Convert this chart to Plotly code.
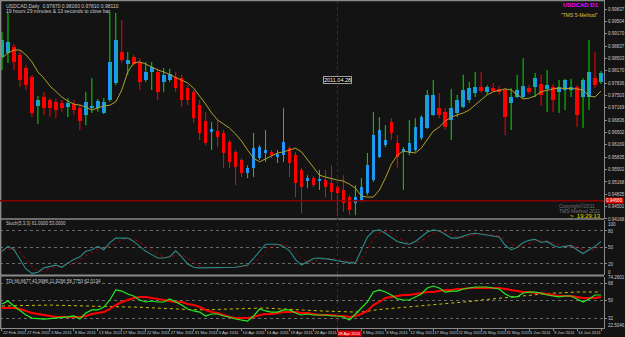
import plotly.graph_objects as go

# ---------------- data ----------------
tick_dates = ["22 Feb 2011", "27 Feb 2011", "3 Mar 2011", "8 Mar 2011", "13 Mar 2011", "17 Mar 2011",
              "22 Mar 2011", "27 Mar 2011", "31 Mar 2011", "5 Apr 2011", "10 Apr 2011", "14 Apr 2011",
              "19 Apr 2011", "24 Apr 2011", "28 Apr 2011", "3 May 2011", "8 May 2011", "12 May 2011",
              "17 May 2011", "22 May 2011", "26 May 2011", "31 May 2011", "5 Jun 2011", "9 Jun 2011",
              "14 Jun 2011", "19 Jun 2011"]
bars_per_tick = 4
highlight_tick = 14  # tick under the vertical line, shown on red

open_ = [.9854, .9865, .9881, .9860, .9824, .9800, .9722, .9746, .9738, .9733,
         .9730, .9719, .9727, .9716, .9697, .9716, .9716, .9703, .9738, .9784,
         .9868, .9835, .9854, .9841, .9792, .9814, .9814, .9787, .9792, .9800,
         .9797, .9770, .9760, .9724, .9681, .9652, .9654, .9649, .9625, .9598,
         .9576, .9541, .9554, .9581, .9595, .9598, .9584, .9589, .9608, .9589,
         .9549, .9522, .9527, .9519, .9522, .9514, .9503, .9495, .9476, .9460,
         .9468, .9487, .9522, .9584, .9616, .9679, .9622, .9598, .9595, .9603,
         .9635, .9662, .9697, .9716, .9706, .9684, .9703, .9719, .9738, .9757,
         .9773, .9760, .9770, .9768, .9765, .9730, .9746, .9746, .9770, .9773,
         .9781, .9768, .9773, .9760, .9765, .9765, .9773, .9746, .9746, .9797,
         .9787]
high = [.9922, .9973, .9889, .9873, .9833, .9806, .9749, .9760, .9743, .9741,
        .9738, .9743, .9738, .9727, .9760, .9797, .9741, .9743, .9976, .9973,
        .9954, .9868, .9860, .9851, .9841, .9841, .9824, .9824, .9822, .9814,
        .9806, .9778, .9765, .9738, .9706, .9679, .9684, .9657, .9630, .9603,
        .9581, .9562, .9649, .9616, .9657, .9603, .9603, .9716, .9614, .9598,
        .9554, .9535, .9533, .9549, .9549, .9562, .9508, .9535, .9481, .9508,
        .9527, .9595, .9706, .9692, .9670, .9689, .9643, .9611, .9684, .9689,
        .9697, .9765, .9792, .9757, .9716, .9768, .9752, .9806, .9787, .9814,
        .9814, .9778, .9784, .9776, .9770, .9770, .9806, .9851, .9778, .9811,
        .9806, .9819, .9781, .9792, .9795, .9795, .9778, .9797, .9900, .9868,
        .9816]
low = [.9819, .9838, .9819, .9773, .9765, .9692, .9673, .9697, .9692, .9689,
       .9706, .9692, .9697, .9657, .9670, .9703, .9706, .9700, .9733, .9778,
       .9838, .9806, .9830, .9765, .9787, .9765, .9738, .9760, .9787, .9760,
       .9719, .9724, .9676, .9630, .9616, .9603, .9611, .9554, .9554, .9508,
       .9530, .9527, .9530, .9576, .9571, .9581, .9568, .9571, .9530, .9476,
       .9433, .9500, .9503, .9495, .9476, .9468, .9425, .9436, .9427, .9427,
       .9463, .9481, .9517, .9581, .9611, .9630, .9554, .9495, .9589, .9598,
       .9630, .9660, .9695, .9689, .9657, .9630, .9692, .9716, .9730, .9746,
       .9757, .9752, .9760, .9752, .9643, .9657, .9743, .9743, .9754, .9746,
       .9722, .9706, .9706, .9703, .9711, .9746, .9665, .9662, .9711, .9770,
       .9781]
close = [.9900, .9895, .9841, .9792, .9778, .9703, .9738, .9716, .9716, .9711,
         .9716, .9730, .9711, .9681, .9733, .9722, .9735, .9733, .9841, .9900,
         .9846, .9846, .9835, .9787, .9814, .9827, .9760, .9806, .9808, .9770,
         .9738, .9738, .9689, .9649, .9622, .9660, .9638, .9595, .9571, .9557,
         .9541, .9554, .9608, .9611, .9603, .9589, .9592, .9625, .9568, .9514,
         .9503, .9527, .9508, .9525, .9503, .9490, .9487, .9460, .9441, .9476,
         .9503, .9562, .9643, .9657, .9630, .9649, .9584, .9606, .9622, .9665,
         .9692, .9752, .9752, .9697, .9665, .9716, .9738, .9765, .9770, .9773,
         .9762, .9773, .9762, .9760, .9692, .9746, .9765, .9776, .9760, .9797,
         .9752, .9778, .9738, .9773, .9792, .9773, .9697, .9792, .9814, .9778,
         .9811]
ma = [.9851, .9865, .9873, .9873, .9860, .9841, .9814, .9797, .9776, .9760,
      .9746, .9735, .9727, .9724, .9719, .9711, .9716, .9722, .9724, .9733,
      .9765, .9814, .9838, .9841, .9835, .9827, .9819, .9814, .9806, .9800,
      .9792, .9784, .9770, .9749, .9727, .9703, .9684, .9673, .9662, .9646,
      .9627, .9603, .9581, .9571, .9579, .9589, .9595, .9598, .9603, .9608,
      .9598, .9576, .9554, .9535, .9530, .9525, .9522, .9519, .9511, .9500,
      .9479, .9476, .9476, .9495, .9527, .9565, .9589, .9600, .9598, .9595,
      .9608, .9630, .9654, .9665, .9681, .9692, .9697, .9703, .9711, .9724,
      .9738, .9752, .9760, .9765, .9768, .9765, .9752, .9741, .9743, .9749,
      .9760, .9765, .9768, .9770, .9770, .9770, .9768, .9765, .9749, .9746,
      .9762]
price_ticks = [0.99837, 0.99504, 0.99170, 0.98837, 0.98503, 0.98170, 0.97836, 0.97503, 0.97169,
               0.96836, 0.96502, 0.96169, 0.95835, 0.95502, 0.95168, 0.94835, 0.94501, 0.94168]
hline_price = 0.9466
vline_bar = 56
vline_label = "2011.04.28"

stoch_main = [43, 52, 46, 28, 11, 3, 5, 13, 16, 18, 14, 22, 28, 33, 43, 46, 52, 46, 59, 67,
              67, 67, 61, 52, 43, 37, 31, 31, 33, 44, 33, 20, 14, 13, 13, 13, 14, 14, 13, 14,
              16, 18, 30, 43, 56, 56, 56, 52, 44, 28, 18, 24, 30, 31, 30, 28, 26, 24, 22, 22,
              46, 69, 80, 82, 76, 69, 61, 58, 56, 61, 69, 78, 82, 80, 74, 67, 67, 71, 74, 76,
              74, 72, 71, 69, 54, 46, 50, 59, 63, 65, 59, 61, 54, 50, 52, 54, 46, 39, 46, 52, 61]
stoch_signal = [45, 47, 48, 42, 29, 15, 7, 7, 11, 15, 16, 18, 21, 28, 35, 41, 47, 48, 52, 57,
                64, 67, 65, 60, 52, 44, 37, 33, 32, 36, 37, 32, 22, 16, 13, 13, 13, 14, 14, 14,
                15, 16, 21, 30, 43, 52, 56, 55, 51, 41, 30, 23, 24, 28, 30, 30, 28, 26, 24, 23,
                30, 46, 65, 77, 79, 76, 69, 62, 58, 58, 62, 69, 76, 80, 79, 74, 69, 68, 71, 74,
                75, 74, 72, 71, 65, 56, 50, 52, 57, 62, 62, 62, 58, 55, 52, 52, 51, 46, 44, 46, 53]
stoch_levels = [20, 50, 80]

tdi_green = [46.9, 49.9, 44.8, 39.8, 35.7, 32.6, 32.0, 31.6, 32.0, 32.6,
             32.6, 33.7, 34.7, 31.6, 37.7, 40.8, 40.8, 43.8, 50.9, 61.1,
             60.0, 57.0, 55.0, 50.9, 48.9, 49.9, 48.9, 48.9, 52.0, 48.9,
             45.8, 41.8, 39.8, 38.7, 34.7, 36.7, 36.7, 34.7, 33.7, 31.6,
             30.6, 29.6, 34.7, 41.8, 39.8, 38.7, 38.7, 40.8, 40.8, 37.7,
             35.7, 36.7, 35.7, 35.7, 35.7, 34.7, 34.7, 33.7, 30.6, 36.7,
             42.8, 48.9, 59.0, 61.1, 59.0, 56.0, 52.0, 50.9, 50.9, 54.0,
             57.0, 63.1, 65.1, 63.1, 59.0, 60.0, 60.0, 62.1, 63.1, 64.1,
             64.1, 64.1, 63.1, 62.1, 57.0, 54.0, 54.0, 58.0, 59.0, 59.0,
             58.0, 56.0, 55.0, 54.0, 55.0, 55.0, 52.0, 48.9, 52.0, 56.0, 56.0]
tdi_red = [42.8, 42.8, 42.8, 41.8, 39.8, 37.7, 36.7, 35.7, 34.7, 33.7,
           33.7, 33.7, 33.7, 33.7, 34.7, 36.7, 37.7, 38.7, 41.8, 45.8,
           48.9, 50.9, 53.0, 54.0, 54.0, 53.0, 52.0, 50.9, 49.9, 48.9,
           48.9, 46.9, 45.8, 43.8, 40.8, 38.7, 37.7, 35.7, 33.7, 32.6,
           32.6, 32.6, 33.7, 35.7, 36.7, 36.7, 37.7, 38.7, 38.7, 38.7,
           37.7, 37.7, 36.7, 35.7, 35.7, 35.7, 34.7, 34.7, 33.7, 34.7,
           36.7, 39.8, 45.8, 48.9, 53.0, 54.0, 55.0, 56.0, 56.0, 57.0,
           58.0, 59.0, 59.0, 60.0, 61.1, 61.1, 62.1, 62.1, 63.1, 63.1,
           63.1, 63.1, 63.1, 63.1, 62.1, 61.1, 60.0, 59.0, 59.0, 58.0,
           58.0, 57.0, 56.0, 55.0, 55.0, 55.0, 54.0, 53.0, 53.0, 53.0, 54.0]
tdi_base = [44.8, 45.0, 45.2, 45.4, 45.6, 45.8, 45.8, 45.8, 45.8, 45.6,
            45.4, 45.2, 45.0, 44.9, 44.8, 44.8, 44.6, 44.4, 44.2, 44.0,
            43.9, 43.8, 43.8, 43.6, 43.4, 43.2, 43.0, 42.8, 42.4, 42.0,
            41.6, 41.2, 41.0, 40.8, 41.0, 41.2, 41.4, 41.6, 41.8, 42.0,
            42.2, 42.4, 42.6, 42.8, 42.8, 42.4, 42.0, 41.6, 41.2, 41.0,
            40.8, 40.5, 40.2, 39.9, 39.6, 39.3, 39.0, 38.7, 38.7, 38.7,
            38.7, 39.7, 40.8, 41.3, 41.8, 42.3, 42.8, 43.3, 43.8, 44.3,
            44.8, 45.3, 45.8, 46.3, 46.9, 47.4, 47.9, 48.9, 49.4, 49.9,
            50.9, 51.5, 52.0, 52.5, 53.0, 54.0, 54.5, 55.0, 55.5, 56.0,
            57.0, 57.5, 58.0, 58.0, 58.5, 58.5, 59.0, 59.0, 59.0, 59.0, 59.0]
tdi_levels = [32, 50, 68]
tdi_text = "TDI 66.6677 43.9986 11.9296 58.7750 62.0134"

# ---------------- styling ----------------
BG = "#131313"
GRAY = "#8a8a8a"
TXT = "#c8c8c8"
BULL_BODY = "#1e90ff"
BULL_WICK = "#00e000"
BEAR = "#ff0000"
FONT = "Liberation Sans, Arial, sans-serif"

n = len(close)
idx = list(range(n))

fig = go.Figure()

# wicks
for bull, col in ((True, BULL_WICK), (False, BEAR)):
    xs, ys = [], []
    for i in idx:
        if (close[i] >= open_[i]) == bull:
            xs += [i, i, None]
            ys += [low[i], high[i], None]
    fig.add_trace(go.Scatter(x=xs, y=ys, mode="lines", line=dict(color=col, width=1),
                             hoverinfo="skip", xaxis="x", yaxis="y"))

# bodies
min_body = 0.00015
fig.add_trace(go.Bar(
    x=idx,
    base=[min(open_[i], close[i]) for i in idx],
    y=[max(abs(close[i] - open_[i]), min_body) for i in idx],
    width=0.6,
    marker=dict(color=[BULL_BODY if close[i] >= open_[i] else BEAR for i in idx], line=dict(width=0)),
    xaxis="x", yaxis="y"))

# moving average
fig.add_trace(go.Scatter(x=idx, y=ma, mode="lines", line=dict(color="#b0a030", width=1),
                         xaxis="x", yaxis="y"))

# stochastic
fig.add_trace(go.Scatter(x=idx, y=stoch_signal, mode="lines",
                         line=dict(color="#a00000", width=1, dash="dot"), xaxis="x", yaxis="y2"))
fig.add_trace(go.Scatter(x=idx, y=stoch_main, mode="lines",
                         line=dict(color="#2a8c8c", width=1.1), xaxis="x", yaxis="y2"))

# TDI
fig.add_trace(go.Scatter(x=idx, y=tdi_base, mode="lines",
                         line=dict(color="#c8c000", width=1, dash="dot"), xaxis="x", yaxis="y3"))
fig.add_trace(go.Scatter(x=idx, y=tdi_red, mode="lines",
                         line=dict(color="#ff0000", width=2), xaxis="x", yaxis="y3"))
fig.add_trace(go.Scatter(x=idx, y=tdi_green, mode="lines",
                         line=dict(color="#22ee22", width=1.2), xaxis="x", yaxis="y3"))

tickfont = dict(size=4.5, color=TXT, family=FONT)
yax_common = dict(side="right", anchor="x", showline=True, linecolor=GRAY, linewidth=1,
                  zeroline=False, ticks="outside", ticklen=2, tickcolor=GRAY, tickfont=tickfont,
                  fixedrange=True)

tick_positions = [k * bars_per_tick for k in range(len(tick_dates))]
tick_text = ["" if k == highlight_tick else t for k, t in enumerate(tick_dates)]

fig.update_layout(
    width=625, height=337,
    margin=dict(l=0, r=18, t=0, b=9),
    paper_bgcolor=BG, plot_bgcolor=BG,
    showlegend=False, barmode="overlay", bargap=0,
    font=dict(family=FONT, size=5, color=TXT),
    xaxis=dict(domain=[0, 1], range=[-0.33, 100.5], anchor="y3",
               tickvals=tick_positions, ticktext=tick_text,
               ticklabelposition="outside right", tickangle=0, ticks="outside", ticklen=2,
               tickcolor=GRAY, showgrid=False, zeroline=False, showline=True, linecolor=GRAY,
               tickfont=dict(size=4.2, color=TXT, family=FONT), rangeslider=dict(visible=False),
               fixedrange=True),
    yaxis=dict(domain=[0.3308, 1], range=[0.94154, 1.0008], tickvals=price_ticks,
               ticktext=[f"{v:.5f}" for v in price_ticks], showgrid=False, **yax_common),
    yaxis2=dict(domain=[0.1616, 0.3293], range=[0, 100], tickvals=stoch_levels,
                ticktext=[str(v) for v in stoch_levels], showgrid=True, gridcolor="#6a6a6a",
                griddash="dot", gridwidth=1, **yax_common),
    yaxis3=dict(domain=[0, 0.1555], range=[22.5, 74.26], tickvals=tdi_levels,
                ticktext=[str(v) for v in tdi_levels], showgrid=True, gridcolor="#6a6a6a",
                griddash="dot", gridwidth=1, **yax_common),
)

# frame / separators
shapes = []
for yp, w in ((0.9985, 1.5), (0.3323, 1.5), (0.1601, 2)):
    shapes.append(dict(type="line", xref="paper", yref="paper", x0=0, x1=1, y0=yp, y1=yp,
                       line=dict(color=GRAY, width=w)))
shapes.append(dict(type="line", xref="paper", yref="paper", x0=0.001, x1=0.001, y0=0, y1=1,
                   line=dict(color=GRAY, width=1.5)))
shapes.append(dict(type="line", xref="paper", yref="y", x0=0, x1=1, y0=hline_price, y1=hline_price,
                   line=dict(color="#8a0000", width=1.5)))
shapes.append(dict(type="line", xref="x", yref="paper", x0=vline_bar, x1=vline_bar, y0=0, y1=1,
                   line=dict(color="#b00000", width=1, dash="dot")))
fig.update_layout(shapes=shapes)

ann = []
ann.append(dict(xref="paper", yref="paper", x=0.006, y=0.997, xanchor="left", yanchor="top",
                text=f"USDCAD,Daily  {open_[-1]:.5f} {high[-1]:.5f} {low[-1]:.5f} {close[-1]:.5f}",
                showarrow=False, font=dict(size=5, color=TXT)))
ann.append(dict(xref="paper", yref="paper", x=0.006, y=0.981, xanchor="left", yanchor="top",
                text="19 hours 29 minutes & 13 seconds to close bar",
                showarrow=False, font=dict(size=5, color=TXT)))
ann.append(dict(xref="paper", yref="paper", x=0.995, y=0.986, xanchor="right", yanchor="middle",
                text="<b>USDCAD D1</b>", showarrow=False, font=dict(size=6, color="#ff00ff")))
ann.append(dict(xref="paper", yref="paper", x=0.993, y=0.954, xanchor="right", yanchor="middle",
                text="\"TMS 5-Method\"", showarrow=False, font=dict(size=5, color="#e0c040")))
ann.append(dict(xref="x", yref="y", x=vline_bar, y=0.9792, xanchor="center", yanchor="middle",
                text=vline_label, showarrow=False, font=dict(size=5.5, color="#ffffff"),
                bgcolor="#000000", bordercolor="#a0a0a0", borderwidth=1, borderpad=0))
ann.append(dict(xref="paper", yref="y", x=1, y=hline_price, xanchor="left", yanchor="middle",
                text=f"{hline_price:.5f}", showarrow=False, font=dict(size=4.5, color="#ffffff"),
                bgcolor="#e00000", borderpad=0, xshift=1))
ann.append(dict(xref="paper", yref="paper", x=0.922, y=0.372, xanchor="left", yanchor="middle",
                text="Copyright©2011", showarrow=False, font=dict(size=5, color="#707070")))
ann.append(dict(xref="paper", yref="paper", x=0.922, y=0.356, xanchor="left", yanchor="middle",
                text="TMS-Method 2011", showarrow=False, font=dict(size=5, color="#707070")))
ann.append(dict(xref="paper", yref="paper", x=0.94, y=0.340, xanchor="left", yanchor="middle",
                text=">  19:29:13", showarrow=False, font=dict(size=6, color="#e8d800")))
ann.append(dict(xref="paper", yref="paper", x=0.006, y=0.318, xanchor="left", yanchor="middle",
                text=f"Stoch(5,3,3) {stoch_main[-1]:.4f} {stoch_signal[-1]:.4f}",
                showarrow=False, font=dict(size=4.5, color=TXT)))
ann.append(dict(xref="paper", yref="paper", x=0.006, y=0.143, xanchor="left", yanchor="middle",
                text=tdi_text, showarrow=False, font=dict(size=4.5, color=TXT)))
# panel extreme labels on the price scale
for yv, txt in ((0.317, "100"), (0.170, "0"), (0.153, "74.2601"), (0.008, "22.5046")):
    ann.append(dict(xref="paper", yref="paper", x=1, y=yv, xanchor="left", yanchor="middle",
                    text=txt, showarrow=False, font=dict(size=4.5, color=TXT), xshift=2))
# red time label under the vertical line (replaces the plain tick label there)
ann.append(dict(xref="x", yref="paper", x=tick_positions[highlight_tick], y=0,
                xanchor="left", yanchor="top", text=tick_dates[highlight_tick], showarrow=False,
                font=dict(size=4.2, color="#ffffff", family=FONT),
                bgcolor="#e00000", borderpad=0, yshift=-2, xshift=0))
fig.update_layout(annotations=ann)

fig.write_html("out.html")
